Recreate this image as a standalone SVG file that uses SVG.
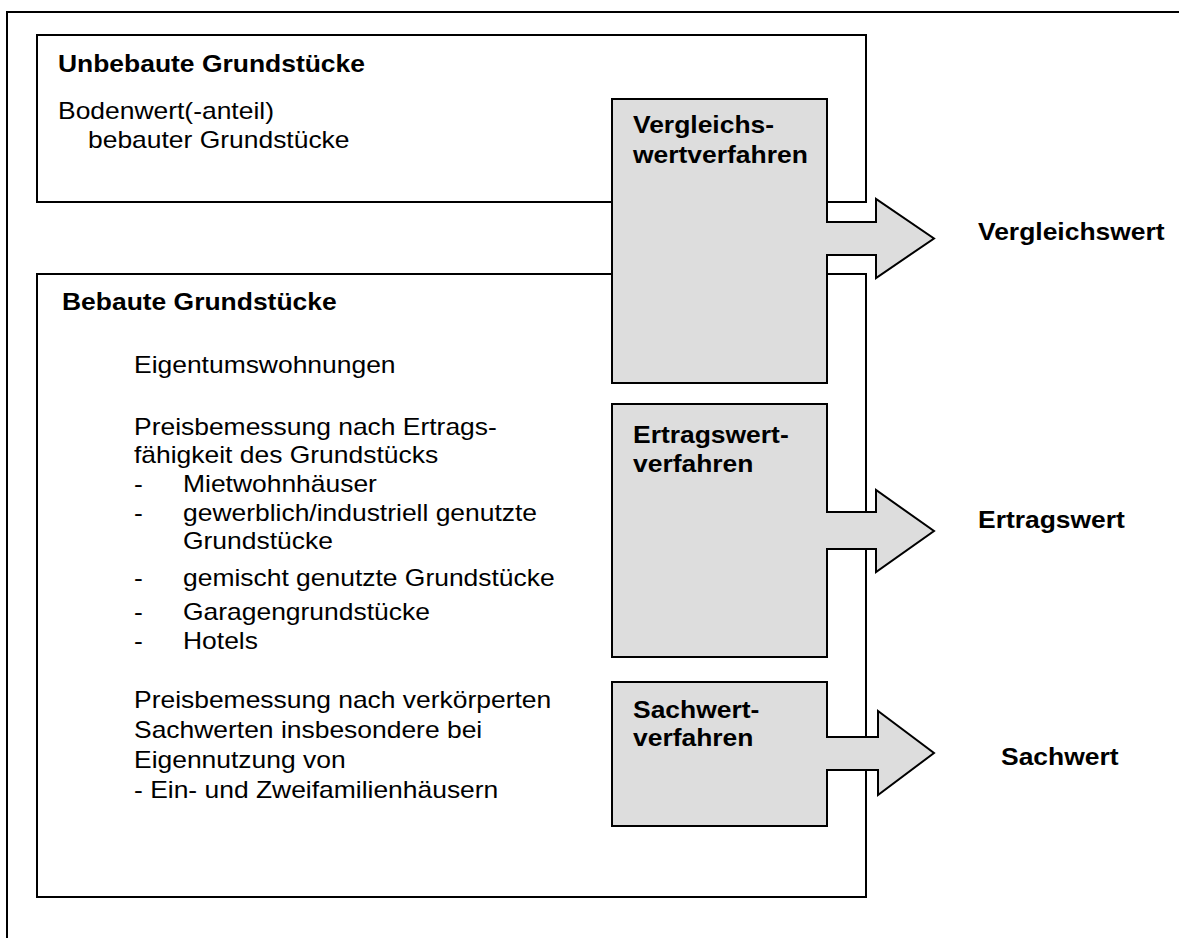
<svg xmlns="http://www.w3.org/2000/svg" width="1179" height="938" viewBox="0 0 1179 938">
<style>
text{font-family:"Liberation Sans",Arial,sans-serif;font-size:23px;fill:#000}
.b{font-weight:bold}
.frame{fill:none;stroke:#000;stroke-width:2}
.box{fill:#fff;stroke:#000;stroke-width:2}
.gray{fill:#dddddd;stroke:#000;stroke-width:2;stroke-linejoin:miter}
</style>
<rect x="7" y="12" width="1200" height="1000" class="frame"/>
<g id="unbebaute">
<rect x="37" y="35" width="829" height="167" class="box"/>
<text class="b" transform="translate(58,72) scale(1.15,1)">Unbebaute Grundstücke</text>
<text transform="translate(58,119) scale(1.15,1)">Bodenwert(-anteil)</text>
<text transform="translate(88,148) scale(1.15,1)">bebauter Grundstücke</text>
</g>
<g id="bebaute">
<rect x="37" y="274" width="829" height="623" class="box"/>
<text class="b" transform="translate(62,310) scale(1.15,1)">Bebaute Grundstücke</text>
<text transform="translate(134,373) scale(1.15,1)">Eigentumswohnungen</text>
<text transform="translate(134,435) scale(1.15,1)">Preisbemessung nach Ertrags-</text>
<text transform="translate(134,463) scale(1.15,1)">fähigkeit des Grundstücks</text>
<text transform="translate(134,492) scale(1.15,1)">-</text>
<text transform="translate(183,492) scale(1.15,1)">Mietwohnhäuser</text>
<text transform="translate(134,521) scale(1.15,1)">-</text>
<text transform="translate(183,521) scale(1.15,1)">gewerblich/industriell genutzte</text>
<text transform="translate(183,549) scale(1.15,1)">Grundstücke</text>
<text transform="translate(134,586) scale(1.15,1)">-</text>
<text transform="translate(183,586) scale(1.15,1)">gemischt genutzte Grundstücke</text>
<text transform="translate(134,620) scale(1.15,1)">-</text>
<text transform="translate(183,620) scale(1.15,1)">Garagengrundstücke</text>
<text transform="translate(134,649) scale(1.15,1)">-</text>
<text transform="translate(183,649) scale(1.15,1)">Hotels</text>
<text transform="translate(134,708) scale(1.15,1)">Preisbemessung nach verkörperten</text>
<text transform="translate(134,738) scale(1.15,1)">Sachwerten insbesondere bei</text>
<text transform="translate(134,768) scale(1.15,1)">Eigennutzung von</text>
<text transform="translate(134,798) scale(1.15,1)">- Ein- und Zweifamilienhäusern</text>
</g>
<g id="vergleichswertverfahren">
<path class="gray" d="M612,99 H827 V222 H876 V199 L934,238.5 L876,278 V255 H827 V383 H612 Z"/>
<text class="b" transform="translate(633,133) scale(1.15,1)">Vergleichs-</text>
<text class="b" transform="translate(633,163) scale(1.15,1)">wertverfahren</text>
</g>
<g id="ertragswertverfahren">
<path class="gray" d="M612,404 H827 V512 H876 V490 L934,531 L876,572 V549 H827 V657 H612 Z"/>
<text class="b" transform="translate(633,443) scale(1.15,1)">Ertragswert-</text>
<text class="b" transform="translate(633,472) scale(1.15,1)">verfahren</text>
</g>
<g id="sachwertverfahren">
<path class="gray" d="M612,682 H827 V737 H878 V711 L934,753 L878,795 V770 H827 V826 H612 Z"/>
<text class="b" transform="translate(633,718) scale(1.15,1)">Sachwert-</text>
<text class="b" transform="translate(633,746) scale(1.15,1)">verfahren</text>
</g>
<g id="vergleichswert"><text class="b" transform="translate(978,240) scale(1.15,1)">Vergleichswert</text></g>
<g id="ertragswert"><text class="b" transform="translate(978,528) scale(1.15,1)">Ertragswert</text></g>
<g id="sachwert"><text class="b" transform="translate(1001,765) scale(1.15,1)">Sachwert</text></g>
<g id="connectors"></g>
</svg>
